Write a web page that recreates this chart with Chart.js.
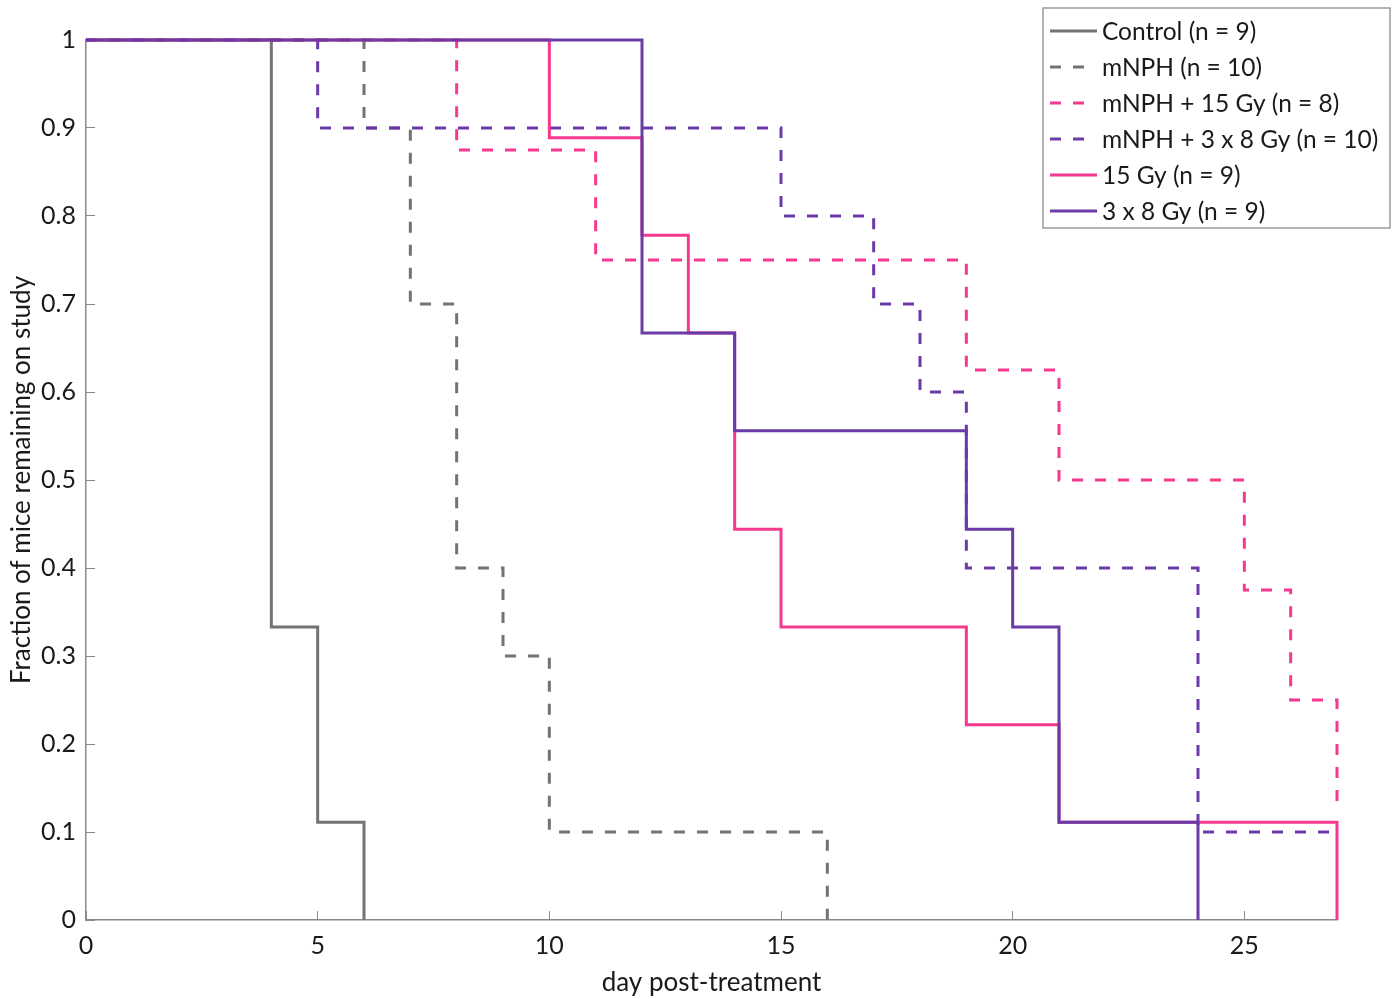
<!DOCTYPE html>
<html>
<head>
<meta charset="utf-8">
<script src="https://cdn.jsdelivr.net/npm/chart.js@4.4.1/dist/chart.umd.min.js"></script>
<style>
  html, body { margin: 0; padding: 0; background: #fff; }
  #chart { display: block; }
</style>
</head>
<body>
<canvas id="chart" width="1399" height="999"></canvas>
<script>
// Kaplan-Meier survival data
const xTicks = [0, 5, 10, 15, 20, 25];
const yTicks = [0, 0.1, 0.2, 0.3, 0.4, 0.5, 0.6, 0.7, 0.8, 0.9, 1];

const controlDays = [0, 4, 5, 6];
const controlFrac = [1, 0.333, 0.111, 0];

const mnphDays = [0, 6, 7, 8, 9, 10, 16];
const mnphFrac = [1, 0.9, 0.7, 0.4, 0.3, 0.1, 0];

const mnph15Days = [0, 8, 11, 19, 21, 25, 26, 27];
const mnph15Frac = [1, 0.875, 0.75, 0.625, 0.5, 0.375, 0.25, 0.125];

const mnph3x8Days = [0, 5, 15, 17, 18, 19, 24, 27];
const mnph3x8Frac = [1, 0.9, 0.8, 0.7, 0.6, 0.4, 0.1, 0.1];

const gy15Days = [0, 10, 12, 13, 14, 15, 19, 21, 27];
const gy15Frac = [1, 0.889, 0.778, 0.667, 0.444, 0.333, 0.222, 0.111, 0];

const gy3x8Days = [0, 12, 14, 19, 20, 21, 24];
const gy3x8Frac = [1, 0.667, 0.556, 0.444, 0.333, 0.111, 0];

const GRAY = "#737377";
const PINK = "#f5398f";
const PURPLE = "#6a3aa6";
const DASH = [11, 12];
const FONT = "Lato, 'Open Sans', sans-serif";

const toPoints = (days, frac) => days.map((d, i) => ({ x: d, y: frac[i] }));

const makeSet = (label, days, frac, color, dashed, order) => ({
  label,
  data: toPoints(days, frac),
  borderColor: color,
  borderWidth: 3,
  borderDash: dashed ? DASH : [],
  borderCapStyle: "butt",
  borderJoinStyle: "miter",
  stepped: true,
  pointRadius: 0,
  fill: false,
  clip: 6,
  order,
});

// legend drawn by hand so it can sit over the top-right corner like the original
const legendBox = {
  id: "legendBox",
  afterDraw(chart) {
    const ctx = chart.ctx;
    ctx.save();
    ctx.fillStyle = "#ffffff";
    ctx.fillRect(1043, 8, 347, 220);
    ctx.strokeStyle = "#9a9a9a";
    ctx.lineWidth = 1.5;
    ctx.strokeRect(1043, 8, 347, 220);

    ctx.font = "24.5px " + FONT;
    ctx.textBaseline = "middle";
    ctx.textAlign = "left";
    chart.data.datasets.forEach((ds, i) => {
      const y = 31 + i * 36;
      const dashed = ds.borderDash.length > 0;
      ctx.strokeStyle = ds.borderColor;
      ctx.lineWidth = 3;
      ctx.setLineDash(ds.borderDash);
      ctx.beginPath();
      ctx.moveTo(1050, y);
      ctx.lineTo(dashed ? 1086 : 1097, y);
      ctx.stroke();
      ctx.setLineDash([]);
      ctx.fillStyle = "#1a1a1a";
      ctx.fillText(ds.label, 1102, y + 1);
    });
    ctx.restore();
  },
};

const axisGrid = {
  drawOnChartArea: false,
  drawTicks: true,
  tickLength: -9,
  color: "#8a8a8a",
  lineWidth: 1,
};

const axisBorder = { color: "#8a8a8a", width: 1.5 };

new Chart(document.getElementById("chart"), {
  type: "line",
  data: {
    datasets: [
      makeSet("Control (n = 9)", controlDays, controlFrac, GRAY, false, 6),
      makeSet("mNPH (n = 10)", mnphDays, mnphFrac, GRAY, true, 5),
      makeSet("mNPH + 15 Gy (n = 8)", mnph15Days, mnph15Frac, PINK, true, 4),
      makeSet("mNPH + 3 x 8 Gy (n = 10)", mnph3x8Days, mnph3x8Frac, PURPLE, true, 3),
      makeSet("15 Gy (n = 9)", gy15Days, gy15Frac, PINK, false, 2),
      makeSet("3 x 8 Gy (n = 9)", gy3x8Days, gy3x8Frac, PURPLE, false, 1),
    ],
  },
  options: {
    responsive: false,
    animation: false,
    events: [],
    layout: { padding: { top: 40, right: 62, left: 0, bottom: 0 } },
    plugins: {
      legend: { display: false },
      tooltip: { enabled: false },
    },
    scales: {
      x: {
        type: "linear",
        position: "bottom",
        min: 0,
        max: 27,
        grid: axisGrid,
        border: axisBorder,
        afterBuildTicks: (scale) => {
          scale.ticks = xTicks.map((v) => ({ value: v }));
        },
        afterFit: (scale) => {
          scale.height = 79;
        },
        ticks: {
          padding: 20,
          color: "#1a1a1a",
          font: { family: FONT, size: 25 },
          callback: (v) => String(v),
        },
        title: {
          display: true,
          text: "day post-treatment",
          color: "#1a1a1a",
          font: { family: FONT, size: 26 },
          padding: { top: 0, bottom: 1 },
        },
      },
      y: {
        type: "linear",
        min: 0,
        max: 1,
        grid: axisGrid,
        border: axisBorder,
        afterBuildTicks: (scale) => {
          scale.ticks = yTicks.map((v) => ({ value: v }));
        },
        afterFit: (scale) => {
          scale.width = 86;
        },
        ticks: {
          padding: 19,
          color: "#1a1a1a",
          font: { family: FONT, size: 25 },
          callback: (v) => String(Number(v.toFixed(1))),
        },
        title: {
          display: true,
          text: "Fraction of mice remaining on study",
          color: "#1a1a1a",
          font: { family: FONT, size: 26 },
          padding: { top: 6, bottom: 0 },
        },
      },
    },
  },
  plugins: [legendBox],
});
</script>
</body>
</html>
